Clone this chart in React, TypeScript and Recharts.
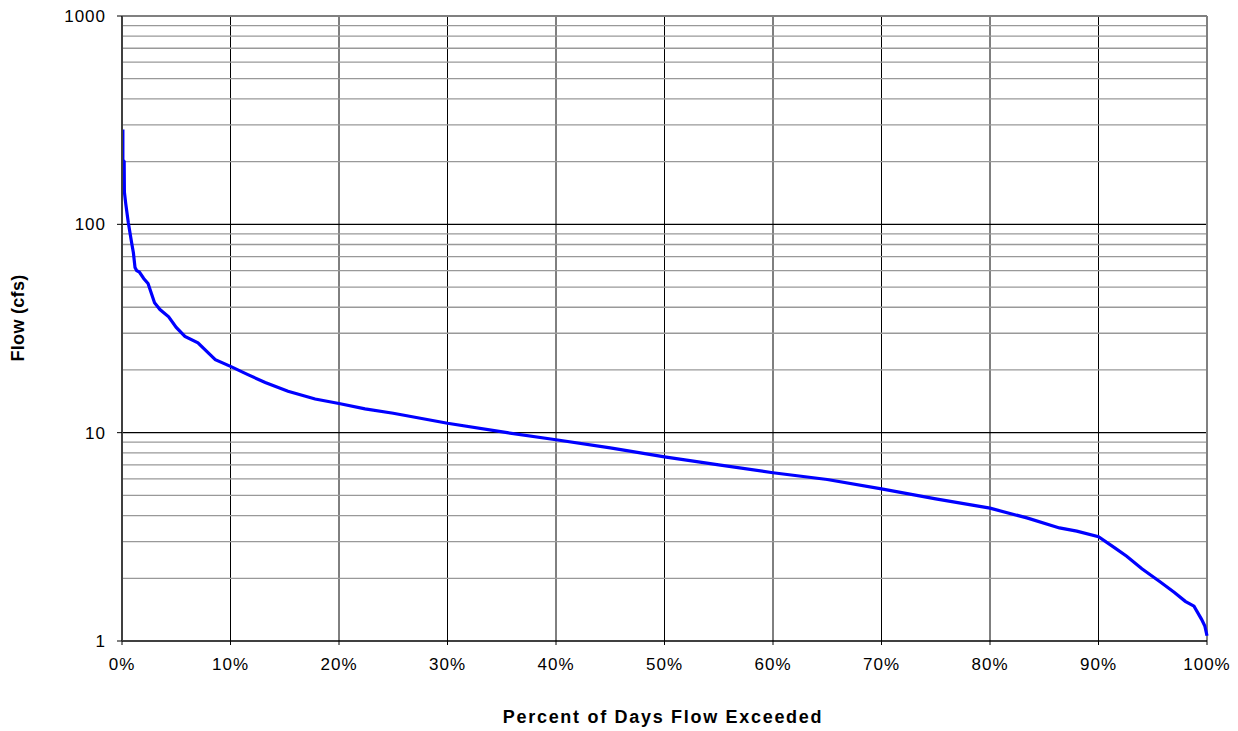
import { CartesianGrid, Line, LineChart, ReferenceLine, XAxis, YAxis } from "recharts";

// percent of days flow exceeded
const pct = [
  0.08, 0.08, 0.1, 0.2, 0.22, 0.35, 0.58, 0.75, 0.9, 1.05, 1.2, 1.35, 1.6, 2.0, 2.4, 3.0,
  3.5, 4.3, 5.0, 5.8, 7.0, 8.0, 8.6, 10.0, 11.6, 13.2, 15.3, 17.8, 20.0, 22.4, 25,
  30, 35.5, 40, 45, 50, 55, 60, 65, 70, 75, 80, 83.4, 86.4, 88, 90, 91.5, 92.6, 94,
  95.7, 97, 98, 98.8, 99.5, 99.8, 100,
];

// flow (cfs)
const flow = [
  285, 205, 203, 200, 143, 125, 102, 90, 81, 73, 62, 60, 59, 55, 52, 42,
  39, 36, 32, 29, 27, 24, 22.4, 20.8, 19, 17.4, 15.8, 14.5, 13.8, 13.0, 12.4,
  11.1, 10.0, 9.25, 8.45, 7.65, 7.0, 6.42, 5.96, 5.37, 4.81, 4.34, 3.9, 3.49, 3.37, 3.17, 2.8, 2.55, 2.22,
  1.92, 1.71, 1.55, 1.47, 1.27, 1.18, 1.06,
];

const xTicks = [0, 10, 20, 30, 40, 50, 60, 70, 80, 90, 100];
const yTicks = [1, 10, 100, 1000];
const majorLines = [10, 100];
const minorLines = [
  2, 3, 4, 5, 6, 7, 8, 9,
  20, 30, 40, 50, 60, 70, 80, 90,
  200, 300, 400, 500, 600, 700, 800, 900,
];

const data = pct.map((p, i) => ({ pct: p, flow: flow[i] }));

const font = '"Liberation Sans", Arial, sans-serif';
const tickStyle = { fontSize: 17, fill: "#000", fontFamily: font, letterSpacing: 1 };

export default function App() {
  return (
    <div style={{ position: "absolute", left: 0, top: 0, width: 1238, height: 731, fontFamily: font }}>
      <LineChart
        width={1238}
        height={731}
        data={data}
        margin={{ top: 16, right: 31, bottom: 60, left: 62 }}
      >
        <CartesianGrid horizontal={false} stroke="#000" strokeWidth={1} />
        {minorLines.map((v) => (
          <ReferenceLine key={v} y={v} stroke="#999" strokeWidth={1.3} />
        ))}
        {majorLines.map((v) => (
          <ReferenceLine key={v} y={v} stroke="#000" strokeWidth={1.3} />
        ))}
        <ReferenceLine y={1000} stroke="#808080" strokeWidth={2} />
        <ReferenceLine x={100} stroke="#808080" strokeWidth={2} />
        <XAxis
          type="number"
          dataKey="pct"
          domain={[0, 100]}
          ticks={xTicks}
          tickFormatter={(v) => `${v}%`}
          height={30}
          tickSize={4}
          tickMargin={13}
          tick={tickStyle}
          axisLine={{ stroke: "#000", strokeWidth: 1.5 }}
          tickLine={{ stroke: "#000" }}
        />
        <YAxis
          type="number"
          scale="log"
          domain={[1, 1000]}
          ticks={yTicks}
          allowDataOverflow
          width={60}
          tickSize={5}
          tickMargin={11}
          tick={tickStyle}
          axisLine={{ stroke: "#404040", strokeWidth: 2 }}
          tickLine={{ stroke: "#000" }}
        />
        <Line
          type="linear"
          dataKey="flow"
          stroke="#0000ff"
          strokeWidth={3.2}
          dot={false}
          isAnimationActive={false}
        />
      </LineChart>
      <div
        style={{
          position: "absolute",
          left: 18,
          top: 318,
          transform: "translate(-50%, -50%) rotate(-90deg)",
          fontWeight: "bold",
          fontSize: 18,
          letterSpacing: 0.3,
          whiteSpace: "nowrap",
        }}
      >
        Flow (cfs)
      </div>
      <div
        style={{
          position: "absolute",
          left: 663,
          top: 717,
          transform: "translate(-50%, -50%)",
          fontWeight: "bold",
          fontSize: 18,
          letterSpacing: 1.7,
          whiteSpace: "nowrap",
        }}
      >
        Percent of Days Flow Exceeded
      </div>
    </div>
  );
}
